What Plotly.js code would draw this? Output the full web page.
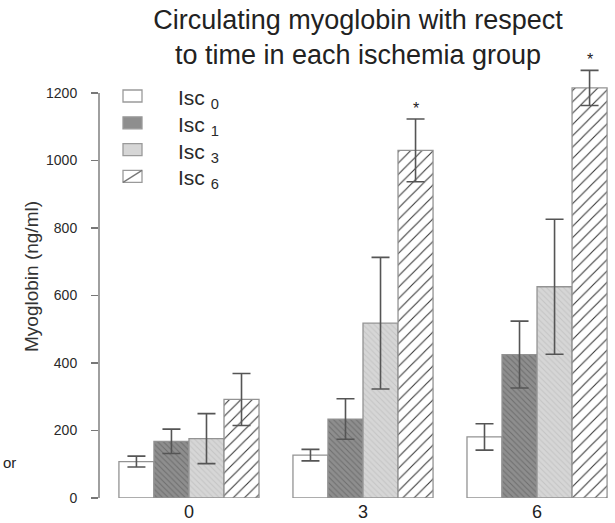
<!DOCTYPE html>
<html>
<head>
<meta charset="utf-8">
<script src="https://cdn.plot.ly/plotly-3.0.1.min.js"></script>
<style>html,body{margin:0;padding:0;background:#fff;}#chart{width:615px;height:523px;}</style>
</head>
<body>
<div id="chart"></div>
<script>
// Data
var timeLabels = ['0', '3', '6'];
var groupNames = ['Isc <sub>0</sub>', 'Isc <sub>1</sub>', 'Isc <sub>3</sub>', 'Isc <sub>6</sub>'];
var isc0 = [108, 127, 181];
var isc1 = [168, 234, 425];
var isc3 = [176, 518, 626];
var isc6 = [292, 1030, 1215];
var err0 = [16, 17, 39];
var err1 = [36, 60, 99];
var err3 = [74, 195, 200];
var err6 = [77, 93, 52];
var sigLabel = ['', '*', '*'];
var yTicks = [0, 200, 400, 600, 800, 1000, 1200];

var xs = timeLabels.map(function (_, i) { return i; });
var bargap = 0.195;
var nSeries = 4;

// plot area in pixels (used for the hand-drawn legend placement)
var M = {l: 99, r: 0, t: 55, b: 25};
var W = 615, H = 523;
var PW = W - M.l - M.r, PH = H - M.t - M.b;
function px2x(p) { return (p - M.l) / PW; }
function py2y(p) { return (H - M.b - p) / PH; }

var styles = [
  {color: '#ffffff', pattern: {shape: ''}},
  {color: '#8e8e8e', pattern: {shape: '\\', fgcolor: '#6e6e6e', bgcolor: '#8e8e8e', size: 4, solidity: 0.25}},
  {color: '#d6d6d6', pattern: {shape: '\\', fgcolor: '#c4c4c4', bgcolor: '#d6d6d6', size: 4, solidity: 0.25}},
  {color: '#ffffff', pattern: {shape: '/', fgcolor: '#3a3a3a', bgcolor: '#ffffff', size: 8, solidity: 0.14}}
];
var values = [isc0, isc1, isc3, isc6];
var errs = [err0, err1, err3, err6];

var traces = values.map(function (v, k) {
  return {
    type: 'bar', x: xs, y: v, name: groupNames[k], showlegend: false,
    marker: {color: styles[k].color, pattern: styles[k].pattern, line: {color: '#939393', width: 1.3}},
    error_y: {type: 'data', array: errs[k], visible: true, color: '#555555', thickness: 1.6, width: 9},
    hoverinfo: 'skip'
  };
});

// significance markers above Isc6 bars
var bw = (1 - bargap) / nSeries;
var sigX = [], sigY = [], sigT = [];
sigLabel.forEach(function (s, i) {
  if (s) { sigX.push(xs[i] + 1.5 * bw); sigY.push(isc6[i] + err6[i]); sigT.push(s); }
});

var annotations = sigX.map(function (x, i) {
  return {x: x, y: sigY[i], xref: 'x', yref: 'y', text: sigT[i], showarrow: false,
    yanchor: 'bottom', yshift: 0, font: {family: 'Liberation Sans, Arial', size: 16, color: '#222'}};
});
annotations.push({xref: 'paper', yref: 'paper', x: px2x(1), y: py2y(462), xanchor: 'left', yanchor: 'middle',
  text: 'or', showarrow: false, font: {family: 'Liberation Sans, Arial', size: 15, color: '#222'}});

// legend (boxes + labels)
var shapes = [{type: 'line', xref: 'paper', yref: 'y', x0: 0, x1: 0, y0: yTicks[0], y1: yTicks[yTicks.length - 1],
  line: {color: '#777', width: 1.4}}];
groupNames.forEach(function (name, k) {
  var cy = 96 + 26.8 * k;
  var bx0 = px2x(123), bx1 = px2x(142), by0 = py2y(cy + 6), by1 = py2y(cy - 6);
  shapes.push({type: 'rect', xref: 'paper', yref: 'paper', x0: bx0, x1: bx1, y0: by0, y1: by1,
    fillcolor: styles[k].color, line: {color: '#9a9a9a', width: 1.3}});
  if (styles[k].pattern.shape === '/') {
    shapes.push({type: 'line', xref: 'paper', yref: 'paper', x0: bx0, x1: bx1, y0: by0, y1: by1,
      line: {color: '#777', width: 1.3}});
  }
  annotations.push({xref: 'paper', yref: 'paper', x: px2x(176), y: py2y(cy + 3), xanchor: 'left', yanchor: 'middle',
    text: name, showarrow: false, font: {family: 'Liberation Sans, Arial', size: 21, color: '#2a2a2a'}});
});

var layout = {
  width: W, height: H,
  margin: M,
  paper_bgcolor: '#ffffff', plot_bgcolor: '#ffffff',
  barmode: 'group', bargap: bargap, bargroupgap: 0,
  showlegend: false,
  title: {
    text: 'Circulating myoglobin with respect<br>to time in each ischemia group',
    x: 0.502, xanchor: 'center', xref: 'paper', y: 0.944, yanchor: 'top', yref: 'container',
    font: {family: 'Liberation Sans, Arial', size: 27, color: '#222'}
  },
  xaxis: {
    range: [-0.517, 2.448], tickvals: xs, ticktext: timeLabels,
    showline: false, showgrid: false, zeroline: false, ticks: '',
    ticklabelstandoff: 1,
    tickfont: {family: 'Liberation Sans, Arial', size: 18, color: '#222'}
  },
  yaxis: {
    range: [0, 1312.6], tickvals: yTicks, ticktext: yTicks.map(String),
    showline: false, showgrid: false, zeroline: false,
    ticks: 'outside', ticklen: 7, tickwidth: 1.4, tickcolor: '#777',
    ticklabelstandoff: 11,
    tickfont: {family: 'Liberation Sans, Arial', size: 14, color: '#2a2a2a'},
    title: {text: 'Myoglobin (ng/ml)', standoff: 2, font: {family: 'Liberation Sans, Arial', size: 19, color: '#333'}}
  },
  shapes: shapes,
  annotations: annotations
};

Plotly.newPlot('chart', traces, layout, {displayModeBar: false, staticPlot: true});
</script>
</body>
</html>
